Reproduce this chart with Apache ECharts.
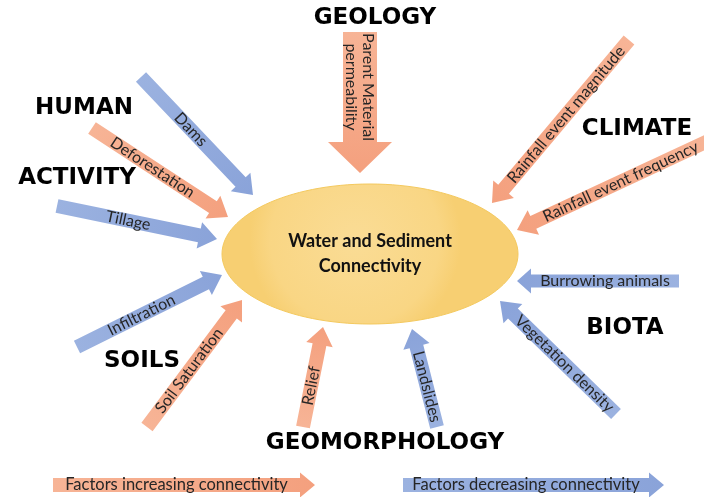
<!DOCTYPE html>
<html>
<head>
<meta charset="utf-8">
<script src="https://cdn.jsdelivr.net/npm/echarts@6/dist/echarts.min.js"></script>
<style>
  html, body { margin: 0; padding: 0; background: #fff; }
  #chart { width: 704px; height: 497px; }
</style>
</head>
<body>
<div id="chart"></div>
<script>
// factor arrows: tail -> tip, in diagram units (x 0..704, y 0..497 from top)
const arrowLabels = [
  'Dams', 'Deforestation', 'Tillage', 'Parent Material\npermeability',
  'Rainfall event magnitude', 'Rainfall event frequency', 'Burrowing animals',
  'Vegetation density', 'Landslides', 'Relief', 'Soil Saturation', 'Infiltration'
];
const arrowEffect = [
  'decrease', 'increase', 'decrease', 'increase',
  'increase', 'increase', 'decrease',
  'decrease', 'decrease', 'increase', 'increase', 'decrease'
];
const tailX = [141, 92, 57, 360, 629, 708, 679, 616, 437, 303, 147, 77];
const tailY = [77, 128, 206, 32, 40, 141, 281, 414, 427, 427, 427, 347];
const tipX = [253, 228, 217, 360, 492, 517, 517, 500, 412, 323, 242, 222];
const tipY = [195, 217, 239, 173, 203, 230, 281, 301, 329, 327, 300, 275];

// group headings
const groupNames = ['GEOLOGY', 'HUMAN', 'ACTIVITY', 'CLIMATE', 'BIOTA', 'SOILS', 'GEOMORPHOLOGY'];
const groupX = [375, 84, 77, 637, 625, 142, 385];
const groupY = [18, 108, 178, 129, 328, 361, 443];

// central node
const centerName = 'Water and Sediment\nConnectivity';
const centerXY = [370, 254];
const centerRadii = [148, 70];

// legend arrows
const legendLabels = ['Factors increasing connectivity', 'Factors decreasing connectivity'];
const legendEffect = ['increase', 'decrease'];
const legendTailX = [53, 403];
const legendTipX = [315, 664];
const legendY = [485, 485];

// styles
const COLORS = {
  increase: ['#F7B496', '#F4A07E'],
  decrease: ['#9BB2E0', '#8AA3D9']
};
const ARROW_SIZE = {
  default: { shaft: 14, head: 27, headLen: 18 },
  'Parent Material\npermeability': { shaft: 34, head: 64, headLen: 31 },
  'Burrowing animals': { shaft: 13, head: 25, headLen: 14 },
  legend: { shaft: 14, head: 25, headLen: 15 }
};

function arrowShape(p1, p2, size) {
  const dx = p2[0] - p1[0];
  const dy = p2[1] - p1[1];
  const len = Math.sqrt(dx * dx + dy * dy);
  const ux = dx / len, uy = dy / len;
  const nx = -uy, ny = ux;
  const bx = p2[0] - ux * size.headLen, by = p2[1] - uy * size.headLen;
  const s = size.shaft / 2, h = size.head / 2;
  return [
    [p1[0] + nx * s, p1[1] + ny * s],
    [bx + nx * s, by + ny * s],
    [bx + nx * h, by + ny * h],
    [p2[0], p2[1]],
    [bx - nx * h, by - ny * h],
    [bx - nx * s, by - ny * s],
    [p1[0] - nx * s, p1[1] - ny * s]
  ];
}

function renderArrow(p1, p2, size, effect, label, fontSize) {
  const pts = arrowShape(p1, p2, size);
  const dx = p2[0] - p1[0];
  const dy = p2[1] - p1[1];
  const len = Math.hypot(dx, dy);
  // text reads left-to-right; straight vertical reads downward
  let a = Math.atan2(dy, dx);
  if (dx < 0 || (dx === 0 && dy < 0)) {
    a += Math.PI;
  }
  const mid = [
    (p1[0] + p2[0]) / 2 - dx / len * size.headLen / 2,
    (p1[1] + p2[1]) / 2 - dy / len * size.headLen / 2
  ];
  const c = COLORS[effect];
  return {
    type: 'group',
    children: [
      {
        type: 'polygon',
        shape: { points: pts },
        style: {
          fill: new echarts.graphic.LinearGradient(p1[0], p1[1], p2[0], p2[1], [
            { offset: 0, color: c[0] },
            { offset: 1, color: c[1] }
          ], true),
          stroke: null
        }
      },
      {
        type: 'text',
        x: mid[0],
        y: mid[1],
        rotation: -a,
        style: {
          text: label,
          fill: '#262626',
          font: fontSize + 'px Lato, "Open Sans", sans-serif',
          align: 'center',
          verticalAlign: 'middle',
          lineHeight: fontSize + 1
        }
      }
    ]
  };
}

const arrowData = arrowLabels.map((name, i) => [tailX[i], tailY[i], tipX[i], tipY[i], i]);
const legendData = legendLabels.map((name, i) => [legendTailX[i], legendY[i], legendTipX[i], legendY[i], i]);
const groupData = groupNames.map((name, i) => [groupX[i], groupY[i], i]);

const chart = echarts.init(document.getElementById('chart'), null, { renderer: 'canvas' });

const option = {
  animation: false,
  backgroundColor: '#ffffff',
  grid: { left: 0, right: 0, top: 0, bottom: 0 },
  xAxis: { type: 'value', min: 0, max: 704, show: false },
  yAxis: { type: 'value', min: 0, max: 497, inverse: true, show: false },
  series: [
    {
      name: 'center',
      type: 'custom',
      data: [[centerXY[0], centerXY[1], centerRadii[0], centerRadii[1]]],
      renderItem(params, api) {
        const c = api.coord([api.value(0), api.value(1)]);
        const r = api.size([api.value(2), api.value(3)]);
        return {
          type: 'group',
          children: [
            {
              type: 'ellipse',
              shape: { cx: c[0], cy: c[1], rx: r[0], ry: r[1] },
              style: {
                fill: new echarts.graphic.RadialGradient(0.45, 0.4, 0.75, [
                  { offset: 0, color: '#FADC95' },
                  { offset: 0.8, color: '#F9D684' },
                  { offset: 1, color: '#F7CF72' }
                ]),
                stroke: '#F4C95E',
                lineWidth: 1
              }
            },
            {
              type: 'text',
              x: c[0],
              y: c[1],
              style: {
                text: centerName,
                fill: '#111',
                font: 'bold 18px Lato, "Open Sans", sans-serif',
                align: 'center',
                verticalAlign: 'middle',
                lineHeight: 25
              }
            }
          ]
        };
      }
    },
    {
      name: 'factors',
      type: 'custom',
      data: arrowData,
      renderItem(params, api) {
        const i = api.value(4);
        const p1 = api.coord([api.value(0), api.value(1)]);
        const p2 = api.coord([api.value(2), api.value(3)]);
        const size = ARROW_SIZE[arrowLabels[i]] || ARROW_SIZE.default;
        return renderArrow(p1, p2, size, arrowEffect[i], arrowLabels[i], 16);
      }
    },
    {
      name: 'legend',
      type: 'custom',
      data: legendData,
      renderItem(params, api) {
        const i = api.value(4);
        const p1 = api.coord([api.value(0), api.value(1)]);
        const p2 = api.coord([api.value(2), api.value(3)]);
        return renderArrow(p1, p2, ARROW_SIZE.legend, legendEffect[i], legendLabels[i], 16.5);
      }
    },
    {
      name: 'groups',
      type: 'custom',
      data: groupData,
      renderItem(params, api) {
        const c = api.coord([api.value(0), api.value(1)]);
        return {
          type: 'text',
          x: c[0],
          y: c[1],
          style: {
            text: groupNames[api.value(2)],
            fill: '#000',
            font: 'bold 23px "DejaVu Sans", Verdana, sans-serif',
            align: 'center',
            verticalAlign: 'middle'
          }
        };
      }
    }
  ]
};

chart.setOption(option);
</script>
</body>
</html>
